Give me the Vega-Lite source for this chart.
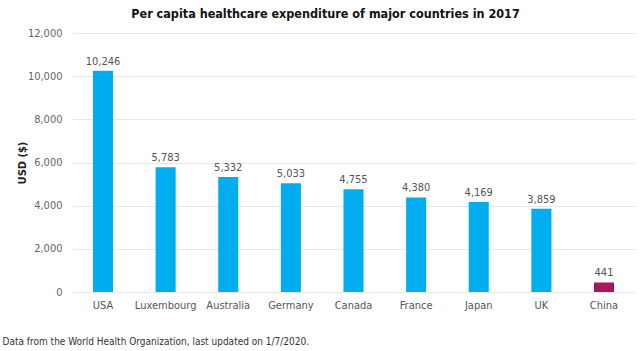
{
  "$schema": "https://vega.github.io/schema/vega-lite/v6.json",
  "width": 563,
  "height": 259,
  "autosize": "none",
  "padding": {"left": 72, "top": 33, "right": 5, "bottom": 59},
  "background": "white",
  "config": {
    "font": "DejaVu Sans Condensed",
    "view": {"stroke": null}
  },
  "title": {
    "text": "Per capita healthcare expenditure of major countries in 2017",
    "fontSize": 12.5,
    "fontWeight": "bold",
    "color": "#111111",
    "anchor": "middle",
    "frame": "group",
    "dx": -28,
    "offset": 7
  },
  "data": {
    "values": [
      {"country": "USA", "usd": 10246, "group": "other"},
      {"country": "Luxembourg", "usd": 5783, "group": "other"},
      {"country": "Australia", "usd": 5332, "group": "other"},
      {"country": "Germany", "usd": 5033, "group": "other"},
      {"country": "Canada", "usd": 4755, "group": "other"},
      {"country": "France", "usd": 4380, "group": "other"},
      {"country": "Japan", "usd": 4169, "group": "other"},
      {"country": "UK", "usd": 3859, "group": "other"},
      {"country": "China", "usd": 441, "group": "china"}
    ]
  },
  "encoding": {
    "x": {
      "field": "country",
      "type": "nominal",
      "sort": null,
      "scale": {"paddingInner": 0.68, "paddingOuter": 0.335},
      "axis": {
        "title": "Data from the World Health Organization, last updated on 1/7/2020.",
        "titleAnchor": "start",
        "titleX": -70,
        "titleY": 44,
        "titleFontSize": 10,
        "titleFontWeight": "normal",
        "titleColor": "#333333",
        "labelAngle": 0,
        "labelFontSize": 11,
        "labelColor": "#555555",
        "labelPadding": 7,
        "domain": false,
        "ticks": false
      }
    },
    "y": {
      "field": "usd",
      "type": "quantitative",
      "scale": {"domain": [0, 12000], "nice": false},
      "axis": {
        "title": "USD ($)",
        "titleFontSize": 11,
        "titleFontWeight": "bold",
        "titleColor": "#222222",
        "titlePadding": 0,
        "values": [0, 2000, 4000, 6000, 8000, 10000, 12000],
        "format": ",d",
        "labelFontSize": 11,
        "labelColor": "#666666",
        "labelPadding": 10,
        "domain": false,
        "ticks": false,
        "gridColor": "#e8e8e8"
      }
    }
  },
  "layer": [
    {
      "mark": {"type": "bar"},
      "encoding": {
        "color": {
          "field": "group",
          "type": "nominal",
          "scale": {"domain": ["other", "china"], "range": ["#00AEEF", "#A3195B"]},
          "legend": null
        }
      }
    },
    {
      "mark": {"type": "text", "baseline": "bottom", "dy": -4, "fontSize": 11, "color": "#555555"},
      "encoding": {
        "text": {"field": "usd", "type": "quantitative", "format": ",d"}
      }
    }
  ]
}
